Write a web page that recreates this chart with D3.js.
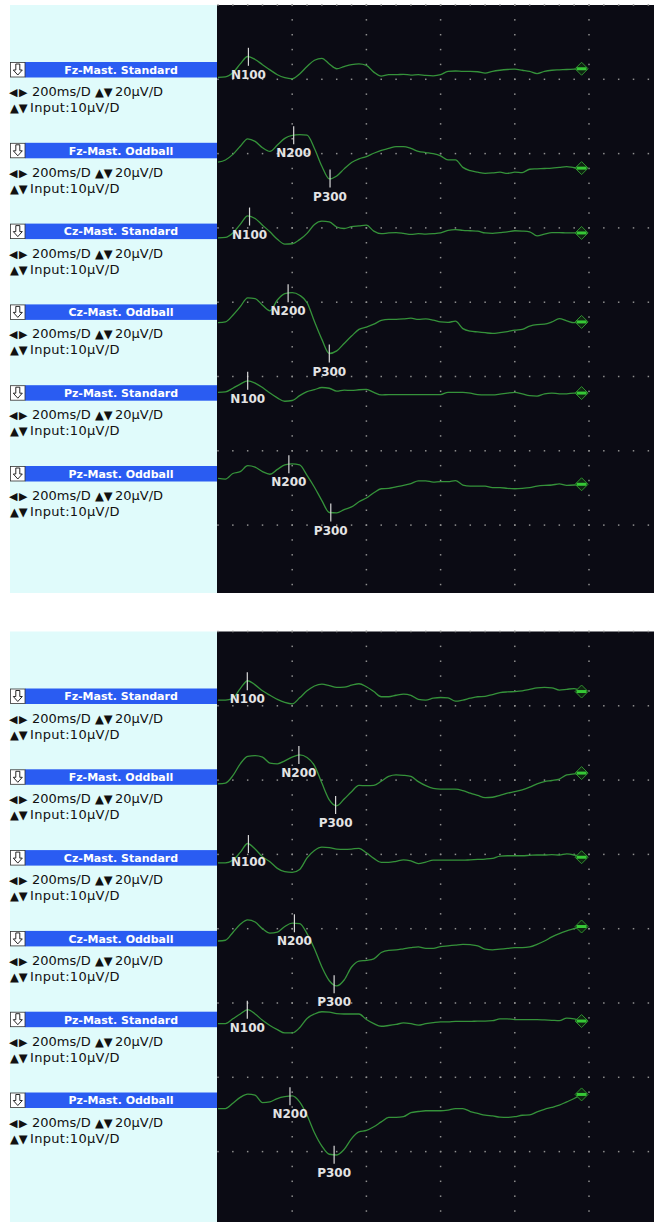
<!DOCTYPE html>
<html>
<head>
<meta charset="utf-8">
<title>ERP Standard / Oddball</title>
<style>
  body { margin: 0; background: #fff; }
  svg { display: block; }
</style>
</head>
<body>
<script src="https://d3js.org/d3.v7.min.js"></script>
<script>
// sample times in ms after the stimulus (one every 20 ms)
const times = [0, 20, 40, 60, 80, 100, 120, 140, 160, 180,
               200, 220, 240, 260, 280, 300, 320, 340, 360, 380,
               400, 420, 440, 460, 480, 500, 520, 540, 560, 580,
               600, 620, 640, 660, 680, 700, 720, 740, 760, 780,
               800, 820, 840, 860, 880, 900, 920, 940, 960, 980];

const channelNames = ["Fz-Mast. Standard", "Fz-Mast. Oddball",
                      "Cz-Mast. Standard", "Cz-Mast. Oddball",
                      "Pz-Mast. Standard", "Pz-Mast. Oddball"];

// upper recording, microvolts (negative plotted upward)
const fzStd1 = [2.1, 2.0, 0.9, -1.5, -3.5, -2.7, -1.3, 0.1, 1.4, 2.2,
                2.5, 1.2, -0.8, -2.5, -3.0, -1.5, -0.2, -0.8, -1.3, -1.5,
                -1.1, 0.7, 1.8, 1.4, 1.4, 1.3, 1.5, 1.4, 1.6, 1.7,
                1.4, 0.5, 0.4, 0.5, 0.5, 0.6, 1.0, 0.5, 0.2, 0,
                -0.1, 0.2, 0.5, 1.1, 0.5, 0.2, 0.1, 0, -0.1, -0.2];
const fzOdd1 = [3.2, 2.6, 1.1, -1.1, -3.1, -2.4, -0.7, 0.3, -1.4, -3.2,
                -4.0, -4.2, -4.1, -0.5, 4.3, 7.7, 6.9, 5.0, 3.3, 2.3,
                1.7, 0.8, 0, -0.5, -1.0, -1.0, -0.5, 0.3, 0.6, 0.9,
                1.5, 2.6, 2.6, 4.6, 5.5, 5.9, 6.2, 6.1, 5.9, 6.2,
                5.9, 6.0, 5.1, 5.0, 4.9, 4.8, 4.6, 4.4, 4.7, 4.8];
const czStd1 = [1.8, 1.7, 0.5, -1.8, -4.1, -3.4, -1.6, 0.2, 2.2, 3.5,
                3.4, 2.3, 0.6, -1.8, -2.7, -2.5, -1.1, -0.7, -1.2, -1.4,
                -1.6, 0, 0.7, 0.5, 0.4, 0.6, 0.9, 0.7, 0.8, 0.7,
                0.5, -0.2, -0.4, -0.2, -0.1, 0, 0.5, 0.6, 0.4, 0.2,
                -0.1, 0, 0.2, 1.3, 0.8, 0.4, 0.4, 0.5, 0.5, 0.5];
const czOdd1 = [2.9, 2.7, 0.9, -1.4, -3.8, -3.6, -1.8, -0.3, -3.2, -4.9,
                -5.2, -4.5, -2.5, 2.6, 7.4, 11.2, 10.5, 8.5, 6.5, 4.7,
                4.1, 3.3, 2.3, 2.0, 2.0, 1.9, 1.7, 2.0, 1.9, 2.2,
                2.7, 2.8, 2.5, 4.5, 5.2, 5.4, 5.6, 5.8, 5.6, 5.3,
                4.9, 4.7, 3.8, 3.4, 3.3, 2.7, 1.8, 2.4, 2.9, 2.7];
const pzStd1 = [-0.1, -0.2, -1.2, -2.3, -3.2, -2.6, -1.4, 0.1, 1.4, 2.3,
                2.1, 0.8, -0.3, -0.8, -1.4, -1.2, -0.4, -0.7, -0.6, -0.8,
                -0.9, -0.1, 0.6, 0.5, 0.5, 0.5, 0.5, 0.5, 0.5, 0.5,
                0.5, -0.1, -0.1, -0.1, 0.1, 0.5, 0.6, 0.6, 0.4, 0.1,
                -0.1, 0.3, 0.8, 0.9, 0.3, 0.1, 0.3, 0.3, 0.1, 0.1];
const pzOdd1 = [1.3, 1.5, 0, -0.5, -2.1, -1.7, -0.5, 0.2, -1.1, -2.3,
                -2.6, -2.3, 0.5, 3.7, 7.3, 10.5, 10.6, 9.7, 9.0, 7.6,
                6.6, 5.2, 4.1, 4.0, 3.6, 3.2, 2.7, 2.0, 2.0, 2.3,
                2.2, 2.2, 1.9, 3.1, 3.4, 3.4, 3.4, 3.8, 3.8, 4.0,
                4.1, 4.0, 3.8, 3.4, 3.2, 3.1, 2.8, 3.2, 3.1, 2.9];

// lower recording
const fzStd2 = [1.1, 1.1, 0.6, -2.0, -4.1, -3.0, -1.4, -0.2, 0.9, 1.7,
                2.1, 0.5, -1.4, -2.7, -3.2, -2.8, -2.3, -2.4, -2.9, -3.3,
                -2.5, -1.2, 0.2, 0.2, -0.2, -0.5, -0.2, 0.9, 1.1, 0.6,
                0.4, 0.5, 1.4, 1.1, 0.6, 0.2, 0.1, -0.4, -0.9, -1.1,
                -1.2, -1.4, -1.8, -2.2, -2.3, -2.2, -1.6, -1.8, -2.0, -1.2];
const fzOdd2 = [1.9, 1.7, -0.3, -3.5, -5.5, -5.7, -5.3, -3.7, -3.5, -4.3,
                -5.3, -5.9, -5.2, -3.0, 1.7, 6.2, 7.8, 6.0, 4.0, 2.3,
                2.4, 2.3, 1.2, -0.1, -0.5, -0.4, -0.1, 1.3, 2.4, 3.1,
                3.3, 3.3, 3.3, 3.7, 4.4, 5.0, 5.6, 5.5, 5.0, 4.4,
                4.0, 3.5, 2.8, 1.9, 1.3, 1.0, 0.6, -0.5, -0.8, -1.0];
const czStd2 = [1.4, 1.4, 0.7, -1.4, -3.8, -2.3, -0.2, 1.1, 2.9, 3.8,
                4.0, 3.2, 0.1, -1.9, -2.8, -2.7, -2.3, -2.2, -2.3, -2.5,
                -1.3, 0.2, 1.3, 1.3, 1.0, 0.6, 0.9, 1.6, 1.2, 0.7,
                0.7, 0.7, 0.7, 0.7, 0.6, 0.5, 0.4, 0.2, -0.4, -0.5,
                -0.5, -0.5, -0.6, -0.7, -0.7, -0.8, -0.7, -1.0, -0.7, -0.1];
const czOdd2 = [0.7, 0.5, -1.6, -3.8, -5.0, -4.4, -2.6, -1.4, -1.7, -3.2,
                -4.1, -4.0, -1.3, 2.8, 7.7, 11.4, 12.8, 11.2, 7.7, 6.1,
                5.9, 5.5, 3.8, 3.2, 3.1, 2.8, 2.5, 2.3, 2.7, 2.7,
                2.2, 2.0, 1.8, 1.6, 1.7, 2.0, 2.9, 3.1, 2.9, 2.7,
                2.5, 2.5, 2.3, 1.6, 0.7, -0.4, -1.3, -2.0, -2.6, -3.2];
const pzStd2 = [1.2, 1.2, -0.1, -1.4, -2.6, -1.4, 0.3, 1.7, 2.8, 3.7,
                3.7, 2.3, -0.2, -1.4, -2.0, -1.9, -1.5, -1.4, -1.4, -1.4,
                0.1, 1.2, 1.9, 1.7, 1.4, 1.0, 1.2, 1.6, 1.2, 0.9,
                0.7, 0.7, 0.6, 0.6, 0.6, 0.5, 0.5, 0.4, -0.1, -0.1,
                0.1, 0.1, 0.1, 0.1, 0.2, 0.3, 0.4, -0.3, -0.1, 0.5];
const pzOdd2 = [2.3, 2.3, 0.9, -0.7, -1.6, -1.3, 0.7, 0.5, -0.4, -0.9,
                -1.1, 0.5, 4.1, 8.8, 12.4, 14.6, 14.8, 13.3, 10.4, 8.6,
                8.2, 7.2, 5.9, 4.7, 4.7, 4.5, 3.4, 3.1, 2.9, 2.9,
                2.9, 2.7, 2.3, 2.3, 3.1, 3.6, 4.1, 4.3, 4.6, 4.7,
                4.5, 4.1, 4.0, 3.2, 2.5, 2.0, 1.4, 0.5, -0.4, -1.5];

// peak markers: names per channel and latencies (ms)
const peakNames = [["N100"], ["N200", "P300"], ["N100"], ["N200", "P300"], ["N100"], ["N200", "P300"]];
const peakTimes1 = [[82], [204, 302], [85], [189, 300], [80], [191, 304]];
const peakTimes2 = [[79], [218, 317], [82], [206, 313], [79], [194, 313]];

const W = 654, H = 1222;
const leftX = 10, plotX = 217;
const divPx = 74.3;          // one grid division
const chanGap = 80.8;

const panels = [
  { top: 5, bottom: 593, series: [fzStd1, fzOdd1, czStd1, czOdd1, pzStd1, pzOdd1], peaks: peakTimes1 },
  { top: 631.5, bottom: 1222, series: [fzStd2, fzOdd2, czStd2, czOdd2, pzStd2, pzOdd2], peaks: peakTimes2 }
];

const svg = d3.select("body").append("svg").attr("width", W).attr("height", H);

// 200 ms per division
const x = d3.scaleLinear().domain([0, 200]).range([218, 218 + 74.2]);

svg.append("defs").selectAll("clipPath")
  .data(panels)
  .enter().append("clipPath")
  .attr("id", (d, i) => "plot" + i)
  .append("rect")
  .attr("x", plotX).attr("y", d => d.top)
  .attr("width", W - plotX).attr("height", d => d.bottom - d.top);

panels.forEach(function(p, pi) {
  let g = svg.append("g");

  g.append("rect")
    .attr("x", leftX).attr("y", p.top)
    .attr("width", plotX - leftX).attr("height", p.bottom - p.top)
    .attr("fill", "#e0fbfb");
  g.append("rect")
    .attr("x", plotX).attr("y", p.top)
    .attr("width", W - plotX).attr("height", p.bottom - p.top)
    .attr("fill", "#0b0b14");

  // dotted grid
  let yDiv = d3.scaleLinear().domain([0, 1]).range([p.top, p.top + divPx]);
  let rows = d3.range(0, 9).filter(j => yDiv(j) < p.bottom - 2);
  let dotTimes = d3.range(0, x.invert(W), 40);
  let grid = g.append("g").attr("fill", "#8f8f8f");
  rows.forEach(function(j) {
    grid.selectAll(null)
      .data(dotTimes)
      .enter().append("rect")
      .attr("x", d => x(d) - 0.75)
      .attr("y", yDiv(j) - 0.75)
      .attr("width", 1.5).attr("height", 1.5);
  });
  let colTimes = [200, 400, 600, 800, 1000];
  let dotRows = d3.range(0, 45, 0.2).filter(k => yDiv(k) < p.bottom - 2);
  colTimes.forEach(function(t) {
    grid.selectAll(null)
      .data(dotRows)
      .enter().append("rect")
      .attr("x", x(t) - 0.75)
      .attr("y", d => yDiv(d) - 0.75)
      .attr("width", 1.5).attr("height", 1.5);
  });

  p.series.forEach(function(vals, ci) {
    let base = p.top + 64.5 + ci * chanGap;
    // 20 µV per division, negative up
    let y = d3.scaleLinear().domain([-20, 20]).range([base - divPx, base + divPx]);

    // channel header
    g.append("rect")
      .attr("x", 25).attr("y", base - 7.5)
      .attr("width", plotX - 25).attr("height", 15.5)
      .attr("fill", "#2a5cf2");
    g.append("rect")
      .attr("x", leftX + 0.5).attr("y", base - 7)
      .attr("width", 14.5).attr("height", 14.5)
      .attr("fill", "#fff").attr("stroke", "#333").attr("stroke-width", 0.8);
    let ax = leftX + 7.8, ay = base;
    g.append("path")
      .attr("d", "M" + (ax - 2) + "," + (ay - 5.5) + "H" + (ax + 2) + "V" + (ay + 0.5) +
                 "H" + (ax + 4.5) + "L" + ax + "," + (ay + 5.5) + "L" + (ax - 4.5) + "," + (ay + 0.5) +
                 "H" + (ax - 2) + "Z")
      .attr("fill", "#fff")
      .attr("stroke", "#111")
      .attr("stroke-width", 0.9);
    g.append("text")
      .attr("x", 121).attr("y", base + 4.3)
      .attr("text-anchor", "middle")
      .attr("font-family", "DejaVu Sans, sans-serif")
      .attr("font-weight", "bold")
      .attr("font-size", 11)
      .attr("fill", "#fff")
      .text(channelNames[ci]);

    let info1 = g.append("text")
      .attr("y", base + 26.5)
      .attr("font-family", "DejaVu Sans, sans-serif")
      .attr("font-size", 13)
      .attr("fill", "#111");
    info1.append("tspan").attr("x", 9).attr("font-size", 11).attr("letter-spacing", 1.5).text("◀▶");
    info1.append("tspan").attr("x", 32).text("200ms/D");
    info1.append("tspan").attr("x", 95).attr("font-size", 11.5).text("▲▼");
    info1.append("tspan").attr("x", 115).text("20µV/D");

    let info2 = g.append("text")
      .attr("y", base + 42.5)
      .attr("font-family", "DejaVu Sans, sans-serif")
      .attr("font-size", 13)
      .attr("fill", "#111");
    info2.append("tspan").attr("x", 10).attr("font-size", 11.5).text("▲▼");
    info2.append("tspan").attr("x", 30).attr("letter-spacing", 0.3).text("Input:10µV/D");

    // waveform
    let line = d3.line()
      .x((d, i) => x(times[i]))
      .y(d => y(d))
      .curve(d3.curveMonotoneX);
    g.append("path")
      .attr("clip-path", "url(#plot" + pi + ")")
      .attr("d", line(vals))
      .attr("fill", "none")
      .attr("stroke", "#35923a")
      .attr("stroke-width", 1.3);

    // end marker
    let ex = x(times[times.length - 1]), ey = y(vals[vals.length - 1]);
    g.append("path")
      .attr("d", "M" + ex + "," + (ey - 6.5) + "L" + (ex + 6.5) + "," + ey + "L" + ex + "," + (ey + 6.5) + "L" + (ex - 6.5) + "," + ey + "Z")
      .attr("fill", "#0f2412")
      .attr("stroke", "#2f8f2f")
      .attr("stroke-width", 1);
    g.append("rect")
      .attr("x", ex - 5).attr("y", ey - 1.5)
      .attr("width", 10).attr("height", 3)
      .attr("fill", "#36c936");

    // peak markers
    let at = d3.scaleLinear().domain(times).range(vals);
    p.peaks[ci].forEach(function(t, k) {
      let px = x(t), py = y(at(t));
      g.append("line")
        .attr("x1", px).attr("x2", px)
        .attr("y1", py - 9).attr("y2", py + 9)
        .attr("stroke", "#d8d8d8")
        .attr("stroke-width", 1.2);
      g.append("text")
        .attr("x", px).attr("y", py + 22)
        .attr("text-anchor", "middle")
        .attr("font-family", "DejaVu Sans, sans-serif")
        .attr("font-weight", "bold")
        .attr("font-size", 12)
        .attr("fill", "#e4e4e4")
        .text(peakNames[ci][k]);
    });
  });
});
</script>
</body>
</html>
